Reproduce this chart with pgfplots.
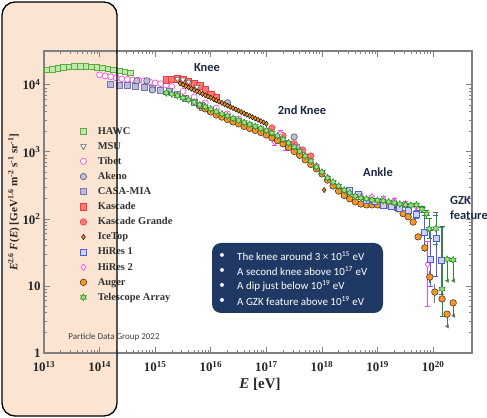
\documentclass[border=0pt]{standalone}
\usepackage{fontspec}
\setmainfont{Liberation Serif}
\newfontfamily\carlito{Carlito}
\usepackage{pgfplots}
\pgfplotsset{compat=1.18}
\usetikzlibrary{plotmarks}

\definecolor{peach}{RGB}{251,229,210}
\definecolor{navybox}{RGB}{31,56,100}
\definecolor{annot}{RGB}{30,40,70}
\definecolor{hawcE}{RGB}{90,170,60}
\definecolor{hawcF}{RGB}{195,232,175}
\definecolor{tibetE}{RGB}{255,80,220}
\definecolor{akenoE}{RGB}{85,85,105}
\definecolor{akenoF}{RGB}{190,190,228}
\definecolor{casaE}{RGB}{120,120,165}
\definecolor{casaF}{RGB}{185,185,232}
\definecolor{kasE}{RGB}{235,60,60}
\definecolor{kasF}{RGB}{255,120,120}
\definecolor{icetopF}{RGB}{230,140,30}
\definecolor{hiresE}{RGB}{80,95,215}
\definecolor{hiresF}{RGB}{205,210,250}
\definecolor{hirestwoE}{RGB}{250,70,230}
\definecolor{augerF}{RGB}{245,150,40}
\definecolor{augerE}{RGB}{60,40,20}
\definecolor{taE}{RGB}{40,140,40}
\definecolor{taF}{RGB}{165,218,135}

\pgfdeclareplotmark{sixstar}{%
  \pgfpathmoveto{\pgfpointpolar{90}{\pgfplotmarksize}}%
  \pgfpathlineto{\pgfpointpolar{120}{0.55\pgfplotmarksize}}%
  \pgfpathlineto{\pgfpointpolar{150}{\pgfplotmarksize}}%
  \pgfpathlineto{\pgfpointpolar{180}{0.55\pgfplotmarksize}}%
  \pgfpathlineto{\pgfpointpolar{210}{\pgfplotmarksize}}%
  \pgfpathlineto{\pgfpointpolar{240}{0.55\pgfplotmarksize}}%
  \pgfpathlineto{\pgfpointpolar{270}{\pgfplotmarksize}}%
  \pgfpathlineto{\pgfpointpolar{300}{0.55\pgfplotmarksize}}%
  \pgfpathlineto{\pgfpointpolar{330}{\pgfplotmarksize}}%
  \pgfpathlineto{\pgfpointpolar{0}{0.55\pgfplotmarksize}}%
  \pgfpathlineto{\pgfpointpolar{30}{\pgfplotmarksize}}%
  \pgfpathlineto{\pgfpointpolar{60}{0.55\pgfplotmarksize}}%
  \pgfpathclose
  \pgfusepathqfillstroke
}

\pgfplotsset{
  hawc/.style={only marks, color=hawcE, mark=square*, mark size=2.8bp, mark options={draw=hawcE, fill=hawcF, line width=0.6bp}},
  msu/.style={only marks, color=black!65, mark=triangle*, mark size=3.2bp, mark options={rotate=180, draw=black!65, fill=white, line width=0.6bp}},
  tibet/.style={only marks, color=tibetE, mark=*, mark size=3bp, mark options={draw=tibetE, fill=white, line width=0.7bp}},
  akeno/.style={only marks, color=akenoE, mark=*, mark size=3.2bp, mark options={draw=akenoE, fill=akenoF, line width=0.6bp}},
  casa/.style={only marks, color=casaE, mark=square*, mark size=3bp, mark options={draw=casaE, fill=casaF, line width=0.6bp}},
  kas/.style={only marks, color=kasE, mark=square*, mark size=3.2bp, mark options={draw=kasE, fill=kasF, line width=0.6bp}},
  kasg/.style={only marks, color=kasE, mark=*, mark size=3.2bp, mark options={draw=kasE, fill=kasF, line width=0.6bp}},
  icetop/.style={only marks, color=black, mark=diamond*, mark size=2.6bp, mark options={draw=black, fill=icetopF, line width=0.4bp}},
  hires/.style={only marks, color=hiresE, mark=square*, mark size=3bp, mark options={draw=hiresE, fill=hiresF, line width=0.7bp}},
  hirestwo/.style={only marks, color=hirestwoE, mark=diamond*, mark size=3.2bp, mark options={draw=hirestwoE, fill=white, line width=0.7bp}},
  auger/.style={only marks, color=augerE, mark=*, mark size=3.3bp, mark options={draw=augerE, fill=augerF, line width=0.5bp}},
  ta/.style={only marks, color=taE, mark=sixstar, mark size=3.4bp, mark options={draw=taE, fill=taF, line width=0.6bp}},
}

\begin{document}
\begin{tikzpicture}
\useasboundingbox (-44bp,-65bp) rectangle (443bp,353bp);
\fill[peach, rounded corners=13bp] (-42bp,-63bp) rectangle (73bp,351bp);
\begin{axis}[
  at={(0bp,0bp)}, anchor=south west,
  scale only axis, width=428bp, height=302bp,
  xmode=log, ymode=log,
  xmin=1e13, xmax=5e20, ymin=1, ymax=3.2e4,
  axis line style={draw=black!50, line width=1.1bp},
  tick style={draw=black!50, line width=0.8bp},
  tick align=inside,
  major tick length=6bp, minor tick length=3bp,
  xtick={1e13,1e14,1e15,1e16,1e17,1e18,1e19,1e20},
  xticklabels={10\textsuperscript{13},10\textsuperscript{14},10\textsuperscript{15},10\textsuperscript{16},10\textsuperscript{17},10\textsuperscript{18},10\textsuperscript{19},10\textsuperscript{20}},
  ytick={1,10,100,1000,10000},
  yticklabels={1,10,10\textsuperscript{2},10\textsuperscript{3},10\textsuperscript{4}},
  ticklabel style={font=\bfseries\fontsize{13}{15}\selectfont, text=black!85},
  xticklabel style={yshift=-5bp},
  legend style={at={(0.084,0.755)}, anchor=north west, draw=none, fill=none,
    font=\bfseries\fontsize{10.5}{12}\selectfont, text=black!80, row sep=2.5bp,
    column sep=9bp, inner sep=0pt},
  legend cell align=left,
  error bars/error bar style={line width=0.8bp},
  error bars/error mark options={rotate=90, mark size=2.5bp},
]
\addlegendimage{hawc}\addlegendentry{HAWC}
\addlegendimage{msu}\addlegendentry{MSU}
\addlegendimage{tibet}\addlegendentry{Tibet}
\addlegendimage{akeno}\addlegendentry{Akeno}
\addlegendimage{casa}\addlegendentry{CASA-MIA}
\addlegendimage{kas}\addlegendentry{Kascade}
\addlegendimage{kasg}\addlegendentry{Kascade Grande}
\addlegendimage{icetop}\addlegendentry{IceTop}
\addlegendimage{hires}\addlegendentry{HiRes 1}
\addlegendimage{hirestwo}\addlegendentry{HiRes 2}
\addlegendimage{auger}\addlegendentry{Auger}
\addlegendimage{ta}\addlegendentry{Telescope Array}

% HAWC
\addplot[hawc, forget plot] coordinates {
(1.122e13,1.67e4) (1.413e13,1.72e4) (1.778e13,1.77e4) (2.239e13,1.82e4)
(2.818e13,1.86e4) (3.548e13,1.88e4) (4.467e13,1.89e4) (5.623e13,1.89e4)
(7.079e13,1.87e4) (8.913e13,1.84e4) (1.122e14,1.79e4) (1.413e14,1.73e4)
(1.778e14,1.67e4) (2.239e14,1.61e4) (2.818e14,1.56e4) (3.548e14,1.52e4)};
% Tibet
\addplot[tibet, forget plot] coordinates {
(1e14,1.41e4) (1.259e14,1.36e4) (1.585e14,1.32e4) (1.995e14,1.27e4)
(2.512e14,1.23e4) (3.162e14,1.21e4) (3.981e14,1.19e4) (5.012e14,1.17e4)
(6.31e14,1.15e4) (7.943e14,1.11e4) (1e15,1.07e4) (1.259e15,1.04e4)
(1.585e15,1.0e4) (1.995e15,9.4e3) (3.162e15,8.0e3) (5.012e15,6.6e3)
(7.943e15,5.4e3) (1.259e16,4.5e3) (1.995e16,3.7e3) (3.162e16,3.1e3)};
% CASA-MIA
\addplot[casa, forget plot] coordinates {
(1.585e14,1.03e4) (2.239e14,1.0e4) (3.162e14,9.7e3) (4.467e14,9.5e3)
(6.31e14,9.3e3) (8.913e14,8.9e3) (1.259e15,8.4e3) (1.778e15,8.0e3)
(2.512e15,7.3e3) (3.548e15,6.2e3) (5.012e15,5.4e3) (7.079e15,4.7e3)
(1e16,4.2e3)};
% Akeno
\addplot[akeno, forget plot] coordinates {
(4.677e14,1.15e4) (7.079e14,1.15e4) (8.913e14,8.4e3) (7.079e15,5.0e3)
(1.202e16,6.6e3) (1.995e16,5.4e3) (3.162e17,1.67e3) (3.548e17,1.19e3)};
% Kascade
\addplot[kas, forget plot] coordinates {
(1.585e15,1.19e4) (1.995e15,1.2e4) (2.512e15,1.23e4) (3.162e15,1.19e4)
(3.981e15,1.11e4) (5.012e15,1.03e4) (6.31e15,9.7e3) (7.943e15,8.4e3)
(1e16,7.3e3) (1.259e16,6.4e3)};
% MSU
\addplot[msu, forget plot] coordinates {
(2.512e15,1.23e4) (3.162e15,1.19e4) (3.981e15,1.11e4) (5.623e15,9.3e3)};
% Kascade Grande
\addplot[kasg, forget plot] coordinates {
(1.259e17,2.28e3) (1.995e17,1.74e3) (3.162e17,1.32e3) (4.467e17,1.07e3)
(6.31e17,870)};
% HiRes 2
\addplot[hirestwo, forget plot, error bars/.cd, y dir=both, y explicit, error mark=-] coordinates {
(1.413e17,1.41e3) +- (0,150)
(1.778e17,1.86e3) +- (0,250)
(2.239e17,1.27e3) +- (0,200)
(3.162e17,1.23e3) +- (0,100)
(5.012e17,870) +- (0,60)
(7.943e17,620) +- (0,40)
(1.259e18,410) +- (0,25)
(1.995e18,300) +- (0,18)
(3.162e18,250) +- (0,15)
(5.012e18,228) +- (0,15)
(7.943e18,213) +- (0,15)
(1.259e19,200) +- (0,15)
(1.995e19,186) +- (0,15)
(3.162e19,167) +- (0,18)
(5.012e19,151) +- (0,20)
(7.943e19,21) += (0,25) -= (0,16)};
% Auger
\addplot[auger, forget plot, error bars/.cd, y dir=both, y explicit, error mark=none, error bar style={color=black!55}] coordinates {
(6.31e15,4860) (7.943e15,4390) (1e16,3950) (1.259e16,3560) (1.585e16,3310)
(1.995e16,3050) (2.512e16,2800) (3.162e16,2620) (3.981e16,2400) (5.012e16,2240)
(6.31e16,2090) (7.943e16,1950) (1e17,1790) (1.259e17,1620) (1.585e17,1480)
(1.995e17,1320) (2.512e17,1170) (3.162e17,1020) (3.981e17,890) (5.012e17,760)
(6.31e17,650) (7.943e17,560) (1e18,470) (1.259e18,380) (1.585e18,310)
(1.995e18,260) (2.512e18,224) (3.162e18,200) (3.981e18,180) (5.012e18,167)
(6.31e18,162) (7.943e18,162) (1e19,162) (1.259e19,162) (1.585e19,159)
(1.995e19,151) (2.344e19,141) (2.884e19,120) (3.548e19,108) (4.365e19,90)
(5.370e19,54) +- (0,5)
(7.079e19,37) +- (0,5)
(8.710e19,13.6) += (0,3) -= (0,2.5)
(1.072e20,8.1) += (0,2.5) -= (0,2.5)
(1.445e20,6.4) += (0,4) -= (0,3)};
% Auger upper limits
\addplot[auger, forget plot, error bars/.cd, y dir=minus, y explicit, error mark=triangle*, error mark options={rotate=180, mark size=2bp, fill=black!60, draw=black!60}, error bar style={color=black!60}] coordinates {
(1.778e20,3.8) -= (0,1.3)
(2.291e20,5.6) -= (0,2.0)};
% HiRes 1
\addplot[hires, forget plot, error bars/.cd, y dir=both, y explicit, error mark=-] coordinates {
(3.162e18,269) +- (0,15)
(4.467e18,236) +- (0,12)
(6.31e18,192) +- (0,10)
(8.913e18,180) +- (0,10)
(1.259e19,162) +- (0,10)
(1.778e19,156) +- (0,10)
(2.512e19,146) +- (0,12)
(3.548e19,132) +- (0,14)
(5.012e19,119) +- (0,16)
(7.079e19,64) += (0,50) -= (0,30)
(8.913e19,25) += (0,45) -= (0,15)
(1.122e20,52) += (0,60) -= (0,38)
(1.413e20,24.5) += (0,50) -= (0,17)};
% Telescope Array
\addplot[ta, forget plot, error bars/.cd, y dir=both, y explicit, error mark=-] coordinates {
(1.585e15,7.6e3) (1.995e15,7.3e3) (2.512e15,6.9e3) (3.162e15,6.4e3)
(3.981e15,6.0e3) (5.012e15,5.5e3) (6.31e15,5.0e3) (7.943e15,4.7e3)
(1e16,4.4e3) (1.259e16,4.0e3) (1.585e16,3.7e3) (1.995e16,3.44e3)
(2.512e16,3.16e3) (3.162e16,2.95e3) (3.981e16,2.75e3) (5.012e16,2.57e3)
(6.31e16,2.40e3) (7.943e16,2.24e3) (1e17,2.09e3) (1.259e17,1.92e3)
(1.585e17,1.74e3) (1.995e17,1.54e3) (2.512e17,1.36e3) (3.162e17,1.19e3)
(3.981e17,1.02e3) (5.012e17,870) (6.31e17,730) (7.943e17,600)
(1e18,500) (1.259e18,410) (1.585e18,355) (1.995e18,309)
(2.512e18,269) (3.162e18,245) (3.981e18,220) (5.012e18,206)
(6.31e18,200) (7.943e18,192) (1e19,189) (1.259e19,186)
(1.585e19,180) (1.995e19,174) (2.512e19,167) (3.162e19,162)
(3.981e19,159) (5.012e19,162) +- (0,12)
(6.31e19,140) +- (0,14)
(7.586e19,119) +- (0,18)
(8.511e19,71) += (0,30) -= (0,20)
(1.122e20,72) += (0,55) -= (0,30)
(1.445e20,9.0) += (0,70) -= (0,5.5)};
% TA upper limits
\addplot[ta, forget plot, error bars/.cd, y dir=minus, y explicit, error mark=triangle*, error mark options={rotate=180, mark size=2bp, fill=taE, draw=taE}] coordinates {
(1.778e20,25) -= (0,13)
(2.291e20,24.5) -= (0,12.5)};
% IceTop
\addplot[icetop, forget plot] coordinates {
(2.818e15,1.047e4) (3.162e15,1.002e4) (3.548e15,9.57e3) (3.981e15,9.16e3)
(4.467e15,8.77e3) (5.012e15,8.38e3) (5.623e15,8.02e3) (6.31e15,7.66e3)
(7.079e15,7.33e3) (7.943e15,7.01e3) (8.913e15,6.70e3) (1e16,6.41e3)
(1.122e16,6.13e3) (1.259e16,5.86e3) (1.413e16,5.61e3) (1.585e16,5.37e3)
(1.778e16,5.13e3) (1.995e16,4.91e3) (2.239e16,4.70e3) (2.512e16,4.49e3)
(2.818e16,4.30e3) (3.162e16,4.11e3) (3.548e16,3.93e3) (3.981e16,3.76e3)
(4.467e16,3.59e3) (5.012e16,3.44e3) (5.623e16,3.29e3) (6.31e16,3.15e3)
(7.079e16,3.01e3) (7.943e16,2.88e3) (8.913e16,2.75e3) (1e17,2.63e3)
(1.096e18,270)};
\end{axis}
% border of the highlight box, on top
\draw[black, line width=1.3bp, rounded corners=13bp] (-42bp,-63bp) rectangle (73bp,351bp);
% axis labels
\node[font=\bfseries\fontsize{15}{17}\selectfont, text=black!85] at (216bp,-31bp) {\textit{E} [eV]};
\node[rotate=90, font=\bfseries\fontsize{11.2}{13}\selectfont, text=black!85] at (-30bp,151bp)
  {\textit{E}\textsuperscript{2.6} \textit{F}(\textit{E}) [GeV\textsuperscript{1.6} m\textsuperscript{-2} s\textsuperscript{-1} sr\textsuperscript{-1}]};
% annotations
\begin{scope}[every node/.style={font=\carlito\bfseries\fontsize{12.5}{14}\selectfont, text=annot}]
\node at (163bp,285bp) {Knee};
\node at (258bp,243bp) {2nd Knee};
\node at (334bp,181bp) {Ankle};
\node[anchor=west, inner sep=0pt] at (406bp,153bp) {GZK};
\node[anchor=west, inner sep=0pt] at (406bp,138bp) {feature};
\end{scope}
\node[font=\carlito\fontsize{9}{11}\selectfont, text=black!75] at (70bp,16bp) {Particle Data Group 2022};
% summary box
\fill[navybox, rounded corners=9bp] (168bp,40bp) rectangle (339bp,110bp);
\begin{scope}[every node/.style={font=\carlito\fontsize{11}{13}\selectfont, text=white, inner sep=0pt}]
\node at (178bp,97bp) {•}; \node[anchor=west] at (193bp,97bp) {The knee around 3 × 10\textsuperscript{15} eV};
\node at (178bp,82bp) {•}; \node[anchor=west] at (193bp,82bp) {A second knee above 10\textsuperscript{17} eV};
\node at (178bp,67bp) {•}; \node[anchor=west] at (193bp,67bp) {A dip just below 10\textsuperscript{19} eV};
\node at (178bp,52bp) {•}; \node[anchor=west] at (193bp,52bp) {A GZK feature above 10\textsuperscript{19} eV};
\end{scope}
\end{tikzpicture}
\end{document}
